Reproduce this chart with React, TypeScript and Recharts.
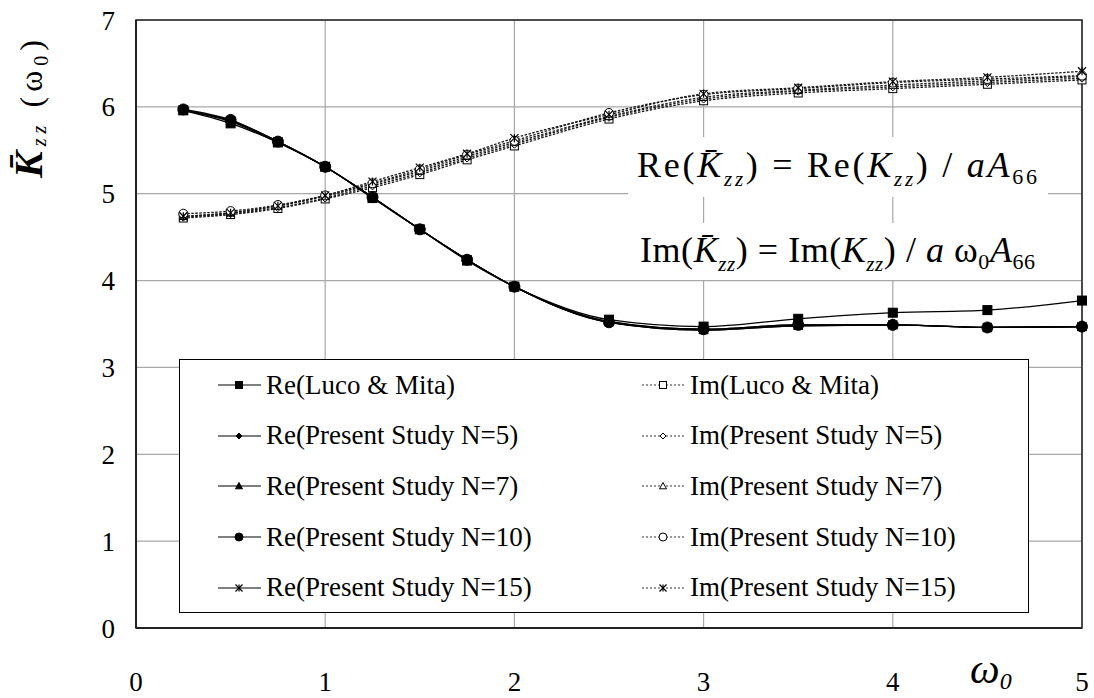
import React from "react";
import {
  LineChart,
  Line,
  XAxis,
  YAxis,
  CartesianGrid,
  Legend,
  ReferenceArea,
} from "recharts";

const OMEGA = [0.25, 0.5, 0.75, 1, 1.25, 1.5, 1.75, 2, 2.5, 3, 3.5, 4, 4.5, 5];

const RE_LUCO = [5.96, 5.81, 5.59, 5.31, 4.95, 4.59, 4.23, 3.93, 3.55, 3.47, 3.56, 3.63, 3.66, 3.77];
const RE_N5 = [5.96, 5.83, 5.59, 5.31, 4.96, 4.59, 4.24, 3.93, 3.52, 3.43, 3.48, 3.49, 3.46, 3.47];
const RE_N7 = [5.96, 5.84, 5.60, 5.31, 4.96, 4.59, 4.24, 3.93, 3.52, 3.43, 3.48, 3.49, 3.46, 3.47];
const RE_N10 = [5.97, 5.85, 5.60, 5.31, 4.96, 4.59, 4.24, 3.93, 3.52, 3.44, 3.49, 3.49, 3.46, 3.47];
const RE_N15 = [5.96, 5.84, 5.60, 5.31, 4.96, 4.59, 4.24, 3.93, 3.53, 3.44, 3.49, 3.49, 3.46, 3.47];

const IM_LUCO = [4.72, 4.76, 4.83, 4.94, 5.07, 5.22, 5.39, 5.55, 5.86, 6.07, 6.16, 6.21, 6.26, 6.31];
const IM_N5 = [4.73, 4.77, 4.84, 4.95, 5.09, 5.24, 5.41, 5.57, 5.88, 6.09, 6.18, 6.23, 6.28, 6.33];
const IM_N7 = [4.74, 4.78, 4.86, 4.97, 5.11, 5.26, 5.43, 5.59, 5.89, 6.11, 6.19, 6.25, 6.30, 6.35];
const IM_N10 = [4.77, 4.80, 4.87, 4.98, 5.12, 5.28, 5.45, 5.61, 5.93, 6.14, 6.21, 6.28, 6.32, 6.36];
const IM_N15 = [4.74, 4.78, 4.86, 4.98, 5.14, 5.30, 5.46, 5.64, 5.91, 6.15, 6.22, 6.29, 6.34, 6.41];

const X_TICKS = [0, 1, 2, 3, 4, 5];
const Y_TICKS = [0, 1, 2, 3, 4, 5, 6, 7];

const FONT = "'Liberation Serif', 'DejaVu Serif', 'Noto Serif', 'Times New Roman', Times, serif";
const GRID = "#a8a8a8";
const INK = "#000";

type Shape = "square" | "diamond" | "triangle" | "circle" | "star";

interface Series {
  key: string;
  name: string;
  values: number[];
  shape: Shape;
  open: boolean;
}

const RE_SERIES: Series[] = [
  { key: "reLuco", name: "Re(Luco & Mita)", values: RE_LUCO, shape: "square", open: false },
  { key: "reN5", name: "Re(Present Study N=5)", values: RE_N5, shape: "diamond", open: false },
  { key: "reN7", name: "Re(Present Study N=7)", values: RE_N7, shape: "triangle", open: false },
  { key: "reN10", name: "Re(Present Study N=10)", values: RE_N10, shape: "circle", open: false },
  { key: "reN15", name: "Re(Present Study N=15)", values: RE_N15, shape: "star", open: false },
];

const IM_SERIES: Series[] = [
  { key: "imLuco", name: "Im(Luco & Mita)", values: IM_LUCO, shape: "square", open: true },
  { key: "imN5", name: "Im(Present Study N=5)", values: IM_N5, shape: "diamond", open: true },
  { key: "imN7", name: "Im(Present Study N=7)", values: IM_N7, shape: "triangle", open: true },
  { key: "imN10", name: "Im(Present Study N=10)", values: IM_N10, shape: "circle", open: true },
  { key: "imN15", name: "Im(Present Study N=15)", values: IM_N15, shape: "star", open: true },
];

const data = OMEGA.map((w, i) => {
  const row: Record<string, number> = { w };
  [...RE_SERIES, ...IM_SERIES].forEach((s) => {
    row[s.key] = s.values[i];
  });
  return row;
});

const PLOT_SIZE: Record<Shape, number> = { square: 9, diamond: 8, triangle: 9, circle: 11, star: 9 };
const PLOT_SIZE_OPEN: Record<Shape, number> = { square: 8, diamond: 8, triangle: 8, circle: 9, star: 8 };
const LEGEND_SIZE: Record<Shape, number> = { square: 7, diamond: 6, triangle: 7, circle: 8, star: 7 };

function Marker({ shape, x, y, s, open }: { shape: Shape; x: number; y: number; s: number; open: boolean }) {
  const fill = open ? "#fff" : INK;
  const h = s / 2;
  switch (shape) {
    case "square":
      return <rect x={x - h} y={y - h} width={s} height={s} fill={fill} stroke={INK} strokeWidth={1} />;
    case "diamond":
      return (
        <polygon
          points={`${x},${y - h} ${x + h},${y} ${x},${y + h} ${x - h},${y}`}
          fill={fill}
          stroke={INK}
          strokeWidth={1}
        />
      );
    case "triangle":
      return (
        <polygon
          points={`${x},${y - h} ${x + h},${y + h * 0.8} ${x - h},${y + h * 0.8}`}
          fill={fill}
          stroke={INK}
          strokeWidth={1}
        />
      );
    case "circle":
      return <circle cx={x} cy={y} r={h} fill={fill} stroke={INK} strokeWidth={1} />;
    case "star":
      return (
        <g stroke={INK} strokeWidth={1.2}>
          <line x1={x - h} y1={y - h} x2={x + h} y2={y + h} />
          <line x1={x - h} y1={y + h} x2={x + h} y2={y - h} />
          <line x1={x} y1={y - h} x2={x} y2={y + h} />
        </g>
      );
  }
  return null;
}

const makeDot = (s: Series) => (p: any) => {
  const size = s.open ? PLOT_SIZE_OPEN[s.shape] : PLOT_SIZE[s.shape];
  return <Marker key={`${s.key}-${p.index}`} shape={s.shape} x={p.cx} y={p.cy} s={size} open={s.open} />;
};

function LegendEntry({ s }: { s: Series }) {
  return (
    <div style={{ display: "flex", alignItems: "center", height: 50.6 }}>
      <svg width={44} height={20} style={{ marginRight: 4 }}>
        <line
          x1={0}
          y1={10}
          x2={43}
          y2={10}
          stroke={s.open ? "#333" : INK}
          strokeWidth={s.open ? 1 : 1.2}
          strokeDasharray={s.open ? "2 2" : undefined}
        />
        <Marker shape={s.shape} x={21} y={10} s={LEGEND_SIZE[s.shape]} open={s.open} />
      </svg>
      <span style={{ fontFamily: FONT, fontSize: 27, color: INK, whiteSpace: "nowrap" }}>{s.name}</span>
    </div>
  );
}

function LegendBox() {
  return (
    <div style={{ position: "relative", width: 848, height: 252 }}>
      <div style={{ position: "absolute", left: 38, top: 0 }}>
        {RE_SERIES.map((s) => (
          <LegendEntry key={s.key} s={s} />
        ))}
      </div>
      <div style={{ position: "absolute", left: 462, top: 0 }}>
        {IM_SERIES.map((s) => (
          <LegendEntry key={s.key} s={s} />
        ))}
      </div>
    </div>
  );
}

const tickStyle = { fontSize: 27, fill: INK, fontFamily: FONT };

export default function App() {
  const drawOrder = [RE_SERIES[0], RE_SERIES[1], RE_SERIES[2], RE_SERIES[4], RE_SERIES[3]];
  return (
    <div style={{ position: "absolute", left: 0, top: 0, width: 1094, height: 698, background: "#fff", fontFamily: FONT }}>
      <LineChart width={1094} height={698} data={data} margin={{ top: 20, right: 12, bottom: 0, left: 0 }}>
        <CartesianGrid stroke={GRID} strokeWidth={1.2} />
        <XAxis
          dataKey="w"
          type="number"
          domain={[0, 5]}
          ticks={X_TICKS}
          height={70}
          tick={tickStyle}
          tickLine={false}
          tickSize={0}
          tickMargin={44}
          axisLine={{ stroke: "#222", strokeWidth: 2 }}
        />
        <YAxis
          type="number"
          domain={[0, 7]}
          ticks={Y_TICKS}
          width={136}
          tick={tickStyle}
          tickLine={false}
          tickSize={0}
          tickMargin={21}
          axisLine={{ stroke: "#222", strokeWidth: 2 }}
        />
        <ReferenceArea x1={0} x2={5} y1={0} y2={7} fill="none" stroke="#222" strokeWidth={1.5} />
        {IM_SERIES.map((s) => (
          <Line
            key={s.key}
            dataKey={s.key}
            name={s.name}
            type="monotone"
            stroke="#1a1a1a"
            strokeWidth={1.3}
            strokeDasharray="2.5 1.5"
            dot={makeDot(s)}
            isAnimationActive={false}
          />
        ))}
        {drawOrder.map((s) => (
          <Line
            key={s.key}
            dataKey={s.key}
            name={s.name}
            type="monotone"
            stroke={INK}
            strokeWidth={1.3}
            dot={makeDot(s)}
            isAnimationActive={false}
          />
        ))}
        <Legend
          layout="vertical"
          align="center"
          verticalAlign="middle"
          width={850}
          height={254}
          content={() => <LegendBox />}
          wrapperStyle={{
            left: 179,
            top: 359,
            width: 850,
            height: 254,
            border: "1px solid #000",
            background: "#fff",
            boxSizing: "border-box",
          }}
        />
      </LineChart>
      <svg
        width={1094}
        height={698}
        style={{ position: "absolute", left: 0, top: 0, pointerEvents: "none" }}
        fontFamily={FONT}
      >
        <rect x={628} y={137} width={420} height={60} fill="#fff" />
        <rect x={628} y={223} width={420} height={57} fill="#fff" />
        <text x={637} y={177} fontSize={36} fill={INK} textLength={400} lengthAdjust="spacing">
          Re(
          <tspan fontStyle="italic">K&#x0304;</tspan>
          <tspan fontStyle="italic" fontSize={21} dy={9}>zz</tspan>
          <tspan dy={-9}>) = Re(</tspan>
          <tspan fontStyle="italic">K</tspan>
          <tspan fontStyle="italic" fontSize={21} dy={9}>zz</tspan>
          <tspan dy={-9}>) / </tspan>
          <tspan fontStyle="italic">aA</tspan>
          <tspan fontSize={22} dy={7}>66</tspan>
        </text>
        <text x={640} y={262} fontSize={36} fill={INK} textLength={395} lengthAdjust="spacing">
          Im(
          <tspan fontStyle="italic">K&#x0304;</tspan>
          <tspan fontStyle="italic" fontSize={21} dy={9}>zz</tspan>
          <tspan dy={-9}>) = Im(</tspan>
          <tspan fontStyle="italic">K</tspan>
          <tspan fontStyle="italic" fontSize={21} dy={9}>zz</tspan>
          <tspan dy={-9}>) / </tspan>
          <tspan fontStyle="italic">a </tspan>
          <tspan>ω</tspan>
          <tspan fontSize={22} dy={7}>0</tspan>
          <tspan dy={-7} fontStyle="italic">A</tspan>
          <tspan fontSize={22} dy={7}>66</tspan>
        </text>
        <text
          x={42}
          y={178}
          transform="rotate(-90 42 178)"
          fontSize={32}
          fill={INK}
          textLength={138}
          lengthAdjust="spacing"
        >
          <tspan fontWeight="bold" fontStyle="italic" fontSize={40}>K&#x0304;</tspan>
          <tspan fontStyle="italic" fontSize={20} dy={4}>zz</tspan>
          <tspan dy={-4}> (ω</tspan>
          <tspan fontSize={20} dy={6}>0</tspan>
          <tspan dy={-6}>)</tspan>
        </text>
        <text x={970} y={683} fontSize={42} fontStyle="italic" fill={INK}>
          ω<tspan fontSize={24} dy={6}>0</tspan>
        </text>
      </svg>
    </div>
  );
}
